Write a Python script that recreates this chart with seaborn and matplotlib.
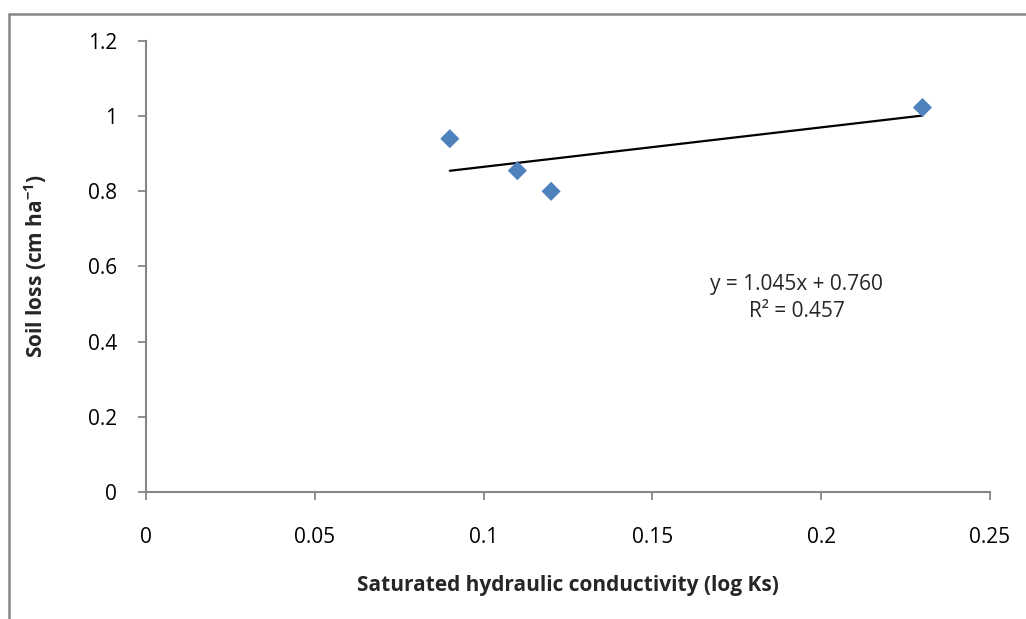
import matplotlib.pyplot as plt
import seaborn as sns
import numpy as np
import pandas as pd

# datos
log_ks = [0.09, 0.11, 0.12, 0.23]
soil_loss = [0.94, 0.855, 0.80, 1.023]
x_ticks = [0, 0.05, 0.1, 0.15, 0.2, 0.25]
x_labels = ['0', '0.05', '0.1', '0.15', '0.2', '0.25']
y_ticks = [0, 0.2, 0.4, 0.6, 0.8, 1, 1.2]
y_labels = ['0', '0.2', '0.4', '0.6', '0.8', '1', '1.2']
equation = 'y = 1.045x + 0.760'
r2_text = 'R² = 0.457'

df = pd.DataFrame({'ks': log_ks, 'loss': soil_loss})

sns.set_style('white')
plt.rcParams['font.family'] = ['Open Sans', 'DejaVu Sans']
plt.rcParams['mathtext.fontset'] = 'custom'
plt.rcParams['mathtext.rm'] = 'Open Sans'
plt.rcParams['mathtext.bf'] = 'Open Sans:bold'

fig = plt.figure(figsize=(10.26, 6.19), dpi=100)
ax = fig.add_axes([0.1423, 0.2052, 0.8226, 0.7286])

# linea de tendencia (regresion lineal sobre los puntos)
sns.regplot(data=df, x='ks', y='loss', scatter=False, ci=None,
            line_kws={'color': 'black', 'lw': 1.6}, ax=ax)
sns.scatterplot(data=df, x='ks', y='loss', marker='D', s=95,
                color='#4F81BD', edgecolor='none', zorder=3, ax=ax)

ax.set_xlim(0, 0.25)
ax.set_ylim(0, 1.2)
ax.set_xticks(x_ticks)
ax.set_xticklabels(x_labels)
ax.set_yticks(y_ticks)
ax.set_yticklabels(y_labels)
ax.tick_params(axis='both', labelsize=15, colors='#868686', labelcolor='black',
               length=6, width=1.3, direction='out', bottom=True, left=True)
ax.tick_params(axis='x', pad=19)
ax.tick_params(axis='y', pad=15)
for s in ['top', 'right']:
    ax.spines[s].set_visible(False)
for s in ['left', 'bottom']:
    ax.spines[s].set_color('#868686')
    ax.spines[s].set_linewidth(1.5)

ax.set_xlabel('Saturated hydraulic conductivity (log Ks)', fontsize=15,
              fontweight='bold', labelpad=20)
ax.set_ylabel(r'Soil loss (cm ha$^{\mathbf{-1}}$)', fontsize=15,
              fontweight='bold', labelpad=28)

ax.text(0.1927, 0.553, equation, fontsize=15, ha='center', va='center')
ax.text(0.1927, 0.481, r2_text, fontsize=15, ha='center', va='center')

# borde del grafico
fig.add_artist(plt.Line2D([9 / 1026, 1], [1 - 14 / 619, 1 - 14 / 619],
                          color='#868686', lw=1.8))
fig.add_artist(plt.Line2D([9 / 1026, 9 / 1026], [0, 1 - 14 / 619],
                          color='#868686', lw=1.8))

fig.savefig('out.png', dpi=100)
